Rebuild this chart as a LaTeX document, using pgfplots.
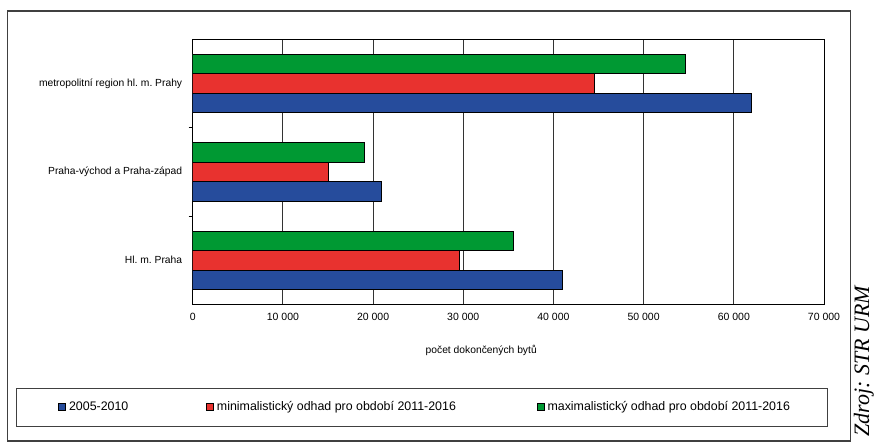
\documentclass[border=0pt]{standalone}
\usepackage{fontspec}
\setmainfont{Liberation Sans}
\newfontfamily\zdrojfont{Liberation Serif}
\usepackage{pgfplots}
\usepackage{pgfplotstable}
\pgfplotsset{compat=1.18}
\definecolor{cblue}{RGB}{38,76,156}
\definecolor{cred}{RGB}{232,50,47}
\definecolor{cgreen}{RGB}{0,153,51}
\frenchspacing

\pgfplotstableread{
y a b c
0 41000 29600 35500
1 20900 15000 19000
2 61900 44500 54600
}\data

\begin{document}
\frenchspacing
\begin{tikzpicture}[x=1pt,y=1pt]
\useasboundingbox (0,0) rectangle (875,443);
\draw[black!75, line width=1.2pt] (7.3,2) rectangle (850.7,432);
\draw[black!75, line width=1pt] (16.7,16.3) rectangle (827.7,54);
\begin{axis}[
  at={(192.7pt,138.5pt)}, anchor=south west,
  width=631.3pt, height=265.2pt, scale only axis,
  xbar=0pt, bar width=19.5pt,
  xmin=0, xmax=70000,
  ymin=-0.5, ymax=2.5,
  xtick={0,10000,...,70000},
  scaled x ticks=false,
  ytick={0,1,2},
  yticklabels={Hl. m. Praha, Praha-východ a Praha-západ, metropolitní region hl. m. Prahy},
  minor ytick={0.5,1.5},
  tick align=outside,
  major tick length=0pt,
  minor tick length=4pt,
  xtick pos=bottom, ytick pos=left,
  xmajorgrids,
  major grid style={black!80, line width=0.8pt},
  minor tick style={black, line width=0.8pt},
  axis line style={black, line width=0.9pt},
  /pgf/number format/assume math mode=true,
  /pgf/number format/1000 sep={\ },
  xticklabel style={font=\fontsize{10.5}{12}\selectfont, yshift=-5pt},
  yticklabel style={font=\fontsize{10.3}{12}\selectfont, xshift=-7pt},
  xlabel={počet dokončených bytů},
  xlabel style={at={(axis description cs:0.457,-0.1716)}, anchor=center, font=\fontsize{10.3}{12}\selectfont},
  sq legend/.style={legend image code/.code={\draw[##1, draw=black, line width=0.6pt] (0pt,-3.5pt) rectangle (7pt,3.5pt);}},
  legend columns=3,
  legend cell align=left,
  legend style={draw=none, fill=none, at={(axis description cs:-0.2129,-0.3846)}, anchor=west, inner sep=0pt,
    nodes={inner sep=0pt}, font=\fontsize{12.4}{14}\selectfont,
    /tikz/every odd column/.append style={column sep=3pt},
    /tikz/column 2/.append style={column sep=78pt},
    /tikz/column 4/.append style={column sep=81pt}},
]
\addplot[fill=cblue, draw=black, line width=0.6pt, sq legend] table[x=a, y=y]{\data};
\addlegendentry{2005-2010}
\addplot[fill=cred, draw=black, line width=0.6pt, sq legend] table[x=b, y=y]{\data};
\addlegendentry{minimalistický odhad pro období 2011-2016}
\addplot[fill=cgreen, draw=black, line width=0.6pt, sq legend] table[x=c, y=y]{\data};
\addlegendentry{maximalistický odhad pro období 2011-2016}
\end{axis}
\node[rotate=90, anchor=base west, inner sep=0pt, font=\zdrojfont\itshape\fontsize{22}{26}\selectfont] at (869,6) {Zdroj: STR URM};
\end{tikzpicture}
\end{document}
